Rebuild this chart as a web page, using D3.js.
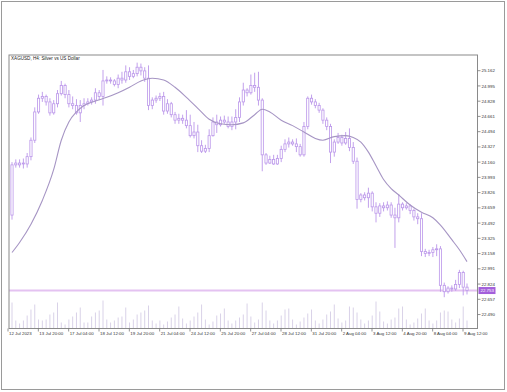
<!DOCTYPE html>
<html>
<head>
<meta charset="utf-8">
<script src="https://cdn.jsdelivr.net/npm/d3@7"></script>
<style>
  body { margin: 0; background: #fff; }
  svg { display: block; }
  text { font-family: "Liberation Sans", Arial, sans-serif; }
</style>
</head>
<body>
<div id="chart"></div>
<script>
// XAGUSD H4, 12 Jul 2023 12:00 .. 9 Aug 2023 12:00 (121 bars)
const opens = [23.58,24.15,24.13,24.15,24.14,24.22,24.40,24.71,24.86,24.88,24.82,24.70,24.80,24.91,25.00,24.90,24.80,24.78,24.70,24.78,
  24.80,24.82,24.84,24.92,24.88,25.05,25.06,25.05,25.01,25.08,25.06,25.15,25.10,25.13,25.20,25.16,25.08,24.78,24.84,24.86,
  24.88,24.72,24.80,24.68,24.62,24.64,24.62,24.56,24.45,24.49,24.34,24.28,24.31,24.45,24.60,24.57,24.62,24.60,24.55,24.60,
  24.65,24.82,24.95,24.92,25.00,24.98,24.84,24.24,24.15,24.19,24.14,24.20,24.30,24.36,24.38,24.36,24.33,24.24,24.55,24.86,
  24.82,24.78,24.73,24.62,24.55,24.27,24.38,24.43,24.37,24.42,24.32,24.17,23.75,23.80,23.77,23.82,23.67,23.60,23.68,23.66,
  23.69,23.58,23.55,23.70,23.66,23.68,23.63,23.56,23.54,23.18,23.16,23.17,23.20,23.21,22.81,22.74,22.78,22.77,22.82,22.95,
  22.79];
const highs = [24.16,24.19,24.19,24.20,24.26,24.43,24.76,24.90,24.93,24.90,24.86,24.84,24.95,25.05,25.02,24.95,24.88,24.85,24.84,24.86,
  24.86,24.87,24.97,24.95,25.17,25.10,25.09,25.07,25.12,25.15,25.22,25.20,25.17,25.25,25.24,25.20,25.22,24.87,24.89,24.92,
  24.93,24.85,24.82,24.71,24.69,24.68,24.73,24.68,24.60,24.57,24.40,24.35,24.52,24.65,24.68,24.66,24.67,24.66,24.66,24.74,
  24.87,25.03,24.97,25.12,25.14,25.15,24.86,24.26,24.23,24.24,24.24,24.34,24.41,24.43,24.41,24.42,24.36,24.60,24.88,24.90,
  24.85,24.81,24.75,24.65,24.58,24.41,24.48,24.46,24.49,24.53,24.38,24.21,23.82,23.83,23.88,23.84,23.72,23.71,23.72,23.73,
  23.72,23.66,23.81,23.72,23.71,23.70,23.65,23.60,23.60,23.21,23.20,23.23,23.26,23.24,22.84,22.80,22.81,22.87,22.98,22.97,
  22.83];
const lows = [23.53,24.10,24.10,24.09,24.10,24.18,24.37,24.69,24.82,24.78,24.67,24.68,24.76,24.89,24.86,24.76,24.74,24.68,24.60,24.74,
  24.78,24.79,24.80,24.84,24.78,25.02,25.02,24.99,24.97,25.02,25.03,25.06,25.08,25.10,25.11,25.04,24.73,24.74,24.81,24.83,
  24.68,24.69,24.65,24.58,24.58,24.58,24.53,24.43,24.42,24.27,24.26,24.26,24.27,24.44,24.48,24.55,24.58,24.53,24.51,24.52,
  24.60,24.78,24.88,24.90,24.93,24.78,24.06,24.13,24.14,24.13,24.13,24.16,24.27,24.32,24.34,24.27,24.22,24.22,24.52,24.79,
  24.75,24.70,24.58,24.51,24.15,24.22,24.36,24.34,24.35,24.28,24.14,23.65,23.72,23.74,23.66,23.62,23.50,23.56,23.62,23.63,
  23.55,23.22,23.50,23.63,23.64,23.59,23.52,23.48,23.13,23.12,23.13,23.12,23.13,22.74,22.68,22.72,22.74,22.75,22.78,22.70,
  22.71];
const closes = [24.13,24.13,24.15,24.14,24.22,24.40,24.71,24.86,24.88,24.82,24.70,24.80,24.91,25.00,24.90,24.80,24.78,24.70,24.78,24.80,
  24.82,24.84,24.92,24.88,25.05,25.06,25.05,25.01,25.08,25.06,25.15,25.10,25.13,25.20,25.16,25.08,24.78,24.84,24.86,24.88,
  24.72,24.80,24.68,24.62,24.64,24.62,24.56,24.45,24.49,24.34,24.28,24.31,24.45,24.60,24.57,24.62,24.60,24.55,24.60,24.65,
  24.82,24.95,24.92,25.00,24.98,24.84,24.24,24.15,24.19,24.14,24.20,24.30,24.36,24.38,24.36,24.33,24.24,24.55,24.86,24.82,
  24.78,24.73,24.62,24.55,24.27,24.38,24.43,24.37,24.42,24.32,24.17,23.75,23.80,23.77,23.82,23.67,23.60,23.68,23.66,23.69,
  23.58,23.55,23.70,23.66,23.68,23.63,23.56,23.54,23.18,23.16,23.17,23.20,23.21,22.81,22.74,22.78,22.77,22.82,22.95,22.79,
  22.753];
const volumes = [2600,800,500,800,1300,1900,2400,900,800,900,1400,1600,2600,600,400,900,1200,1600,2100,600,
  600,1200,1600,1800,2800,900,600,800,1100,1200,2100,600,900,1400,1600,1800,2300,800,500,800,
  400,700,1100,1400,2200,1000,500,800,1200,1600,2400,900,400,700,1300,1500,2000,800,500,800,
  1100,1400,2500,1200,600,900,2600,1800,800,500,800,1300,1900,2000,900,400,700,1100,1500,1900,
  800,500,900,1400,1700,2400,1000,600,800,2200,2100,1600,900,500,800,1300,2700,1700,700,500,
  900,1100,2000,2200,900,400,600,1000,1500,2000,800,500,800,1600,1800,1700,900,600,1000,2200,
  800];
// moving average, read at selected bars
const maBars = [0,2,5,8,11,13,15,17,19,22,25,28,31,34,37,40,43,46,49,52,55,58,61,64,66,68,71,74,77,80,
  82,85,88,90,92,94,96,98,100,102,105,108,111,113,116,118,120];
const maValues = [23.17,23.28,23.48,23.74,24.08,24.40,24.60,24.71,24.78,24.83,24.87,24.92,24.98,25.05,25.08,25.06,24.98,24.87,24.75,24.63,
  24.58,24.57,24.59,24.68,24.74,24.71,24.62,24.56,24.49,24.42,24.40,24.44,24.45,24.43,24.38,24.27,24.12,23.97,23.87,23.80,
  23.69,23.61,23.55,23.47,23.31,23.20,23.07];
const priceTicks = ["25.162","24.995","24.828","24.661","24.494","24.327","24.160","23.993","23.826","23.659","23.492","23.325","23.158","22.991","22.824","22.657","22.490"];
const timeTickBars = [0,8,16,24,32,40,48,56,64,72,80,88,96,104,112,120];
const timeTickLabels = ["12 Jul 2023","13 Jul 20:00","17 Jul 04:00","18 Jul 12:00","19 Jul 20:00","21 Jul 04:00","24 Jul 12:00","25 Jul 20:00",
  "27 Jul 04:00","28 Jul 12:00","31 Jul 20:00","2 Aug 04:00","3 Aug 12:00","4 Aug 20:00","8 Aug 04:00","9 Aug 12:00"];
const bidPrice = 22.753;
const title = "XAGUSD, H4:  Silver vs US Dollar";

const W = 507, H = 392;
const frame = {left: 9, right: 477.5, top: 55, bottom: 328.5};
const candleColor = "#bb96ea";

const svg = d3.select("#chart").append("svg")
  .attr("width", W).attr("height", H);

// outer border
svg.append("rect")
  .attr("x", 1.5).attr("y", 1.5).attr("width", W - 4).attr("height", H - 4)
  .attr("fill", "#fff").attr("stroke", "#9a9a9a").attr("stroke-width", 1);

const x = d3.scaleLinear().domain([0, 120]).range([12, 467]);
const y = d3.scaleLinear().domain([22.337, 25.334]).range([frame.bottom, frame.top]);
const vy = d3.scaleLinear().domain([0, 3000]).range([frame.bottom, frame.bottom - 30]);

const idx = d3.range(opens.length);

// volumes
svg.append("g").selectAll("line").data(idx).enter().append("line")
  .attr("x1", i => x(i)).attr("x2", i => x(i))
  .attr("y1", frame.bottom).attr("y2", i => vy(volumes[i]))
  .attr("stroke", "#d9d2e8").attr("stroke-width", 1);

// bid line
svg.append("line")
  .attr("x1", frame.left).attr("x2", frame.right)
  .attr("y1", y(bidPrice)).attr("y2", y(bidPrice))
  .attr("stroke", "#e4c2f1").attr("stroke-width", 2);

// candles
const candles = svg.append("g");
candles.selectAll("line").data(idx).enter().append("line")
  .attr("x1", i => x(i)).attr("x2", i => x(i))
  .attr("y1", i => y(highs[i])).attr("y2", i => y(lows[i]))
  .attr("stroke", candleColor).attr("stroke-width", 0.9);
candles.selectAll("rect").data(idx).enter().append("rect")
  .attr("x", i => x(i) - 1.1)
  .attr("width", 2.2)
  .attr("y", i => y(Math.max(opens[i], closes[i])))
  .attr("height", i => Math.max(0.6, Math.abs(y(opens[i]) - y(closes[i]))))
  .attr("fill", "#fff").attr("stroke", candleColor).attr("stroke-width", 0.8);

// moving average
const maLine = d3.line()
  .x((d, k) => x(maBars[k]))
  .y(d => y(d))
  .curve(d3.curveMonotoneX);
svg.append("path").datum(maValues)
  .attr("d", maLine)
  .attr("fill", "none").attr("stroke", "#a695c4").attr("stroke-width", 1.1);

// frame
svg.append("rect")
  .attr("x", frame.left).attr("y", frame.top)
  .attr("width", frame.right - frame.left).attr("height", frame.bottom - frame.top)
  .attr("fill", "none").attr("stroke", "#8a8a8a").attr("stroke-width", 1);

// title
svg.append("text")
  .attr("x", frame.left + 2).attr("y", frame.top + 5)
  .attr("font-size", 4.6).attr("fill", "#222")
  .text(title);

// price axis
const pAxis = svg.append("g");
priceTicks.forEach(t => {
  const yy = y(+t);
  pAxis.append("line").attr("x1", frame.right).attr("x2", frame.right + 3)
    .attr("y1", yy).attr("y2", yy).attr("stroke", "#777").attr("stroke-width", 0.8);
  pAxis.append("text").attr("x", frame.right + 4).attr("y", yy + 1.6)
    .attr("font-size", 4.4).attr("fill", "#333").text(t);
});

// bid label
svg.append("rect")
  .attr("x", frame.right + 1).attr("y", y(bidPrice) - 3.5)
  .attr("width", 17).attr("height", 7).attr("fill", "#a35fdb");
svg.append("text")
  .attr("x", frame.right + 3).attr("y", y(bidPrice) + 1.6)
  .attr("font-size", 4.4).attr("fill", "#fff").text(bidPrice.toFixed(3));

// time axis
const tAxis = svg.append("g");
timeTickBars.forEach((b, k) => {
  const xx = x(b) - 4;
  tAxis.append("line").attr("x1", xx).attr("x2", xx)
    .attr("y1", frame.bottom).attr("y2", frame.bottom + 3)
    .attr("stroke", "#777").attr("stroke-width", 0.8);
  tAxis.append("text").attr("x", xx + 1).attr("y", frame.bottom + 6)
    .attr("font-size", 4.4).attr("fill", "#333").text(timeTickLabels[k]);
});
</script>
</body>
</html>
